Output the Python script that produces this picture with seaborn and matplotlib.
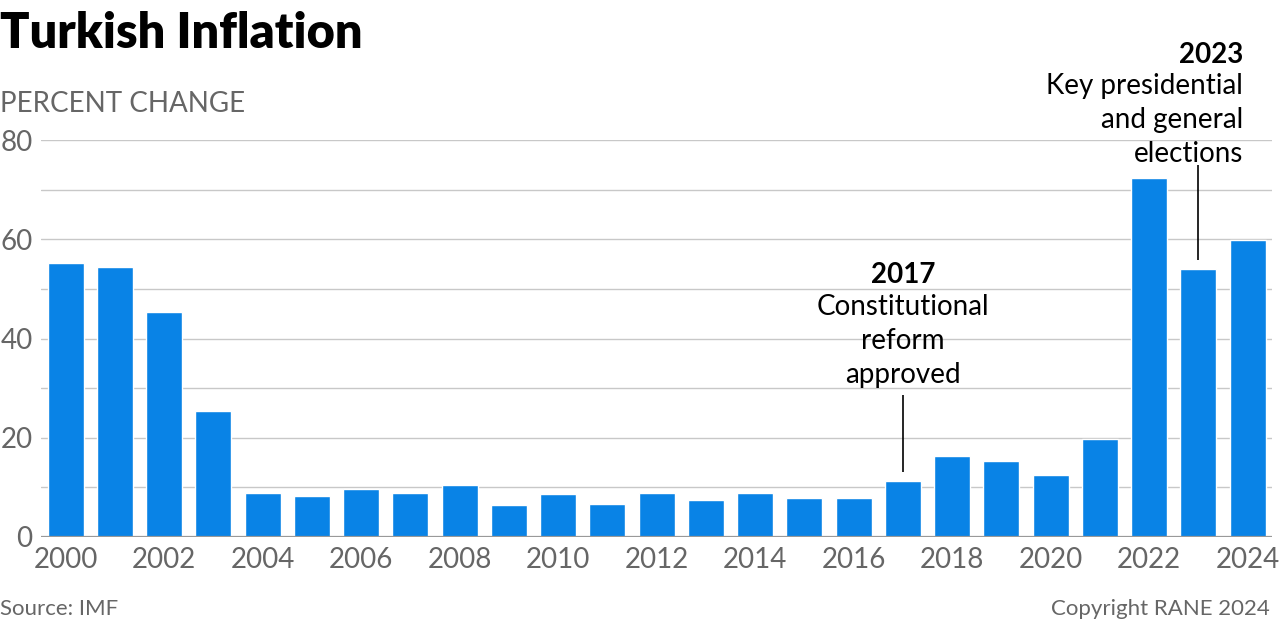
import numpy as np
import pandas as pd
import matplotlib
matplotlib.use("Agg")
import matplotlib.pyplot as plt
import seaborn as sns

# ==========================================
# data
# ==========================================
years = list(range(2000, 2025))
inflation = [55.2, 54.4, 45.3, 25.4, 8.9, 8.2, 9.6, 8.9, 10.5, 6.4,
             8.6, 6.7, 8.9, 7.5, 8.9, 7.8, 7.8, 11.2, 16.3, 15.3,
             12.4, 19.8, 72.4, 54.0, 59.8]
y_ticks = [0, 20, 40, 60, 80]
x_tick_years = list(range(2000, 2025, 2))

BLUE = "#0983e6"
GREY_TXT = "#666666"

sns.set_theme(style="white")
plt.rcParams["font.family"] = ["Lato", "DejaVu Sans"]

df = pd.DataFrame({"year": [str(y) for y in years], "value": inflation})

fig = plt.figure(figsize=(12.8, 6.34), dpi=100)
ax = fig.add_axes([0.032, 0.153, 0.962, 0.626])

sns.barplot(data=df, x="year", y="value", color=BLUE, saturation=1,
            width=0.73, ax=ax, zorder=3)

ax.set_ylim(0, 80)
ax.set_xlim(-0.5, len(years) - 0.5)

# gridlines every 10
for v in range(10, 81, 10):
    ax.axhline(v, color="#c8c8c8", lw=1, zorder=1)
ax.axhline(0, color="#999999", lw=1.6, zorder=4)

ax.set_yticks(y_ticks)
ax.set_yticklabels([str(t) for t in y_ticks])
pos = [years.index(y) for y in x_tick_years]
ax.set_xticks(pos)
ax.set_xticklabels([str(y) for y in x_tick_years])
ax.tick_params(axis="both", length=0, labelsize=20, colors=GREY_TXT)
ax.tick_params(axis="y", pad=6)
ax.tick_params(axis="x", pad=7)
ax.set_xlabel("")
ax.set_ylabel("")
for s in ax.spines.values():
    s.set_visible(False)

# annotations
i17 = years.index(2017)
ax.vlines(i17, 13.1, 28.6, color="black", lw=1.2, zorder=5)
fig.text(903 / 1280, 1 - 275 / 634, "2017", ha="center", va="center",
         fontsize=20, fontweight="bold", color="black")
fig.text(903 / 1280, 1 - 341 / 634, "Constitutional\nreform\napproved",
         ha="center", va="center", fontsize=20, color="black",
         linespacing=1.38)

i23 = years.index(2023)
ax.vlines(i23, 55.8, 75.0, color="black", lw=1.2, zorder=5, clip_on=False)
fig.text(1243 / 1280, 1 - 55 / 634, "2023", ha="right", va="center",
         fontsize=20, fontweight="bold", color="black")
fig.text(1243 / 1280, 1 - 120 / 634, "Key presidential\nand general\nelections",
         ha="right", va="center", fontsize=20, color="black",
         linespacing=1.38)

# titles & footer
fig.text(0.0, 1 - 34 / 634, "Turkish Inflation", ha="left", va="center",
         fontsize=35, fontweight="heavy", color="black")
fig.text(0.0, 1 - 104 / 634, "PERCENT CHANGE", ha="left", va="center",
         fontsize=20, color=GREY_TXT)
fig.text(0.0, 1 - 609 / 634, "Source: IMF", ha="left", va="center",
         fontsize=16, color=GREY_TXT)
fig.text(1270 / 1280, 1 - 609 / 634, "Copyright RANE 2024", ha="right",
         va="center", fontsize=16, color=GREY_TXT)

fig.savefig("out.png", dpi=100, facecolor="white")
